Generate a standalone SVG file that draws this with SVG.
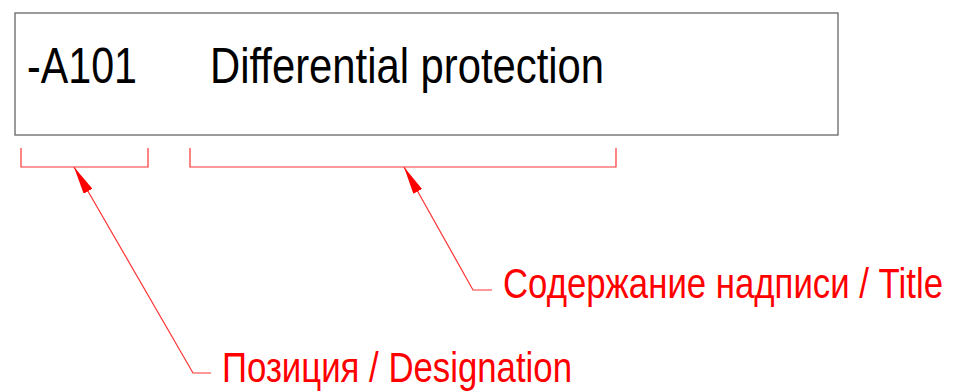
<svg xmlns="http://www.w3.org/2000/svg" width="954" height="392" viewBox="0 0 954 392">
<style>
.box{fill:#fff;stroke:#666;stroke-width:1.3}
.blk{font-family:"Liberation Sans",Arial,sans-serif;font-size:50px;fill:#000}
.red{font-family:"Liberation Sans",Arial,sans-serif;font-size:42px;fill:#ff0000}
.ln{fill:none;stroke:#ff3333;stroke-width:1.2}
</style>
<defs>
<marker id="ah" viewBox="0 0 28 10" refX="28" refY="5" markerWidth="28" markerHeight="10" markerUnits="userSpaceOnUse" orient="auto-start-reverse">
<path d="M0,0 L28,5 L0,10 Z" fill="#ff0000"/>
</marker>
</defs>
<rect width="954" height="392" fill="#fff"/>
<g id="label-box">
<rect class="box" x="15" y="13" width="823" height="122"/>
<text class="blk" x="27" y="83" textLength="110" lengthAdjust="spacingAndGlyphs">-A101</text>
<text class="blk" x="210" y="83" textLength="394" lengthAdjust="spacingAndGlyphs">Differential protection</text>
</g>
<g id="bracket-designation">
<polyline class="ln" points="21,148 21,167 148,167 148,148"/>
</g>
<g id="bracket-title">
<polyline class="ln" points="190,148 190,167 616,167 616,148"/>
</g>
<g id="connectors">
<polyline class="ln" points="74,167 193,373 211,373" marker-start="url(#ah)"/>
<polyline class="ln" points="404,167 473,290 492,290" marker-start="url(#ah)"/>
</g>
<g id="caption-designation">
<text class="red" x="222" y="382" textLength="350" lengthAdjust="spacingAndGlyphs">Позиция / Designation</text>
</g>
<g id="caption-title">
<text class="red" x="503" y="298" textLength="440" lengthAdjust="spacingAndGlyphs">Содержание надписи / Title</text>
</g>
</svg>
